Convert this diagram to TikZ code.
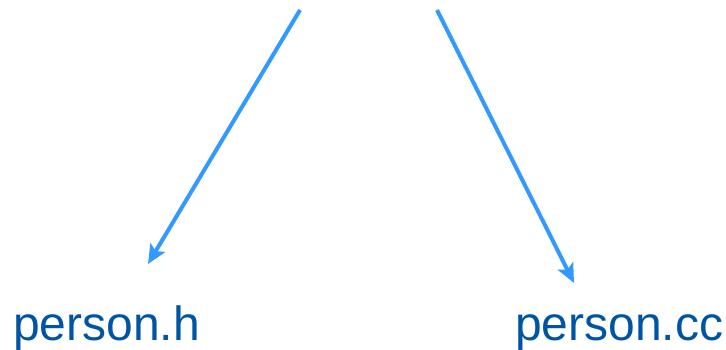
\documentclass[tikz,border=0pt]{standalone}
\usepackage{fontspec}
\setmainfont{Liberation Sans}
\usetikzlibrary{arrows.meta, positioning}
\definecolor{filecolor}{RGB}{0,84,164}
\definecolor{linkcolor}{RGB}{51,153,255}
\tikzset{
  file/.style  = {font=\fontsize{48}{54}\selectfont, text=filecolor, inner sep=0pt},
  arrow/.style = {-{Stealth[length=19pt, width=17pt, inset=4pt]}, line width=4pt,
                  color=linkcolor},
}

\begin{document}
\begin{tikzpicture}[x=1pt, y=-1pt]
  \useasboundingbox (0,0) rectangle (726,350);
  % arrow ends
  \coordinate (srch) at (300,10);
  \coordinate (srccc) at (437,10);
  \coordinate (tiph) at (148,264);
  \coordinate (tipcc) at (574,283);
  % file names
  \node[file, anchor=base west] (personh) at (13,340) {person.h};
  \node[file, anchor=base west] (personcc) at (515,340) {person.cc};
  \draw[arrow] (srch) -- (tiph);
  \draw[arrow] (srccc) -- (tipcc);
\end{tikzpicture}
\end{document}
